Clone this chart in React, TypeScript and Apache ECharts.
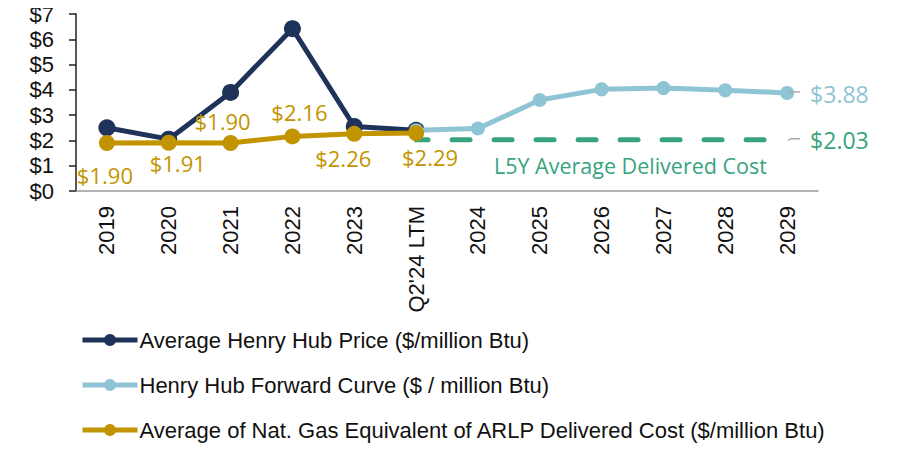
import React, { useEffect, useRef } from "react";
import * as echarts from "echarts";

const categories = ["2019", "2020", "2021", "2022", "2023", "Q2'24 LTM", "2024", "2025", "2026", "2027", "2028", "2029"];
const henryHub = [2.5, 2.05, 3.9, 6.42, 2.55, 2.4, null, null, null, null, null, null];
const forwardCurve = [null, null, null, null, null, 2.4, 2.47, 3.6, 4.02, 4.07, 3.98, 3.88];
const arlpCost = [1.9, 1.91, 1.9, 2.16, 2.26, 2.29, null, null, null, null, null, null];
const l5yAverage = [null, null, null, null, null, 2.03, 2.03, 2.03, 2.03, 2.03, 2.03, 2.03];
const yTicks = [0, 1, 2, 3, 4, 5, 6, 7];
const seriesNames = [
  "Average Henry Hub Price ($/million Btu)",
  "Henry Hub Forward Curve ($ / million Btu)",
  "Average of Nat. Gas Equivalent of ARLP Delivered Cost ($/million Btu)",
];
const l5yLabel = "L5Y Average Delivered Cost";

const NAVY = "#1f3259";
const LIGHT = "#8fc4d4";
const GOLD = "#c29500";
const GREEN = "#38a47d";
const AXIS_FONT = "'Liberation Sans', Arial, sans-serif";
const LABEL_FONT = "'Open Sans', 'Liberation Sans', sans-serif";

export default function App() {
  const ref = useRef<HTMLDivElement>(null);
  useEffect(() => {
    if (!ref.current) return;
    const chart = echarts.init(ref.current, null, { renderer: "svg" });
    const arlpLabelCfg = [
      { position: "bottom", distance: 13, offset: [-2, 0] },
      { position: "bottom", distance: 1, offset: [9, 0] },
      { position: "top", distance: 3, offset: [-8, 0] },
      { position: "top", distance: 5, offset: [7, 0] },
      { position: "bottom", distance: 5, offset: [-11, 0] },
      { position: "bottom", distance: 5, offset: [14, 0] },
    ];
    chart.setOption({
      animation: false,
      grid: { left: 76, right: 81, top: 14, bottom: 261, containLabel: false },
      legend: {
        orient: "vertical",
        left: 80,
        top: 329,
        padding: 0,
        itemGap: 23,
        itemWidth: 55,
        itemHeight: 15,
        lineStyle: { width: 5 },
        textStyle: { fontFamily: AXIS_FONT, fontSize: 22, lineHeight: 22, color: "#111", padding: [0, 0, 0, -3] },
        data: seriesNames.map((n) => ({ name: n })),
      },
      xAxis: {
        type: "category",
        data: categories,
        boundaryGap: true,
        axisLine: { lineStyle: { color: "#999", width: 1.5 } },
        axisTick: { show: false },
        axisLabel: { rotate: 90, fontSize: 22, color: "#111", fontFamily: AXIS_FONT, margin: 15, interval: 0 },
      },
      yAxis: {
        type: "value",
        min: 0,
        max: 7,
        interval: 1,
        splitLine: { show: false },
        axisLine: { show: true, lineStyle: { color: "#222", width: 1.5 } },
        axisTick: { show: true, length: 7, lineStyle: { color: "#222", width: 1.5 } },
        axisLabel: {
          fontSize: 22,
          color: "#111",
          fontFamily: AXIS_FONT,
          margin: 22,
          formatter: (v: number) => (yTicks.includes(v) ? "$" + v : ""),
        },
      },
      series: [
        {
          name: l5yLabel,
          type: "line",
          data: l5yAverage,
          symbol: "none",
          lineStyle: { color: GREEN, width: 5, type: [18, 24], cap: "round", dashOffset: 6 },
          itemStyle: { color: GREEN },
          z: 1,
        },
        {
          name: seriesNames[0],
          type: "line",
          data: henryHub,
          symbol: "circle",
          symbolSize: 17,
          lineStyle: { color: NAVY, width: 5 },
          itemStyle: { color: NAVY },
          z: 2,
        },
        {
          name: seriesNames[1],
          type: "line",
          data: forwardCurve,
          symbol: "circle",
          symbolSize: 14,
          lineStyle: { color: LIGHT, width: 5 },
          itemStyle: { color: LIGHT },
          z: 3,
        },
        {
          name: seriesNames[2],
          type: "line",
          data: arlpCost.map((v, i) =>
            v == null
              ? null
              : {
                  value: v,
                  label: {
                    show: true,
                    position: arlpLabelCfg[i].position,
                    distance: arlpLabelCfg[i].distance,
                    offset: arlpLabelCfg[i].offset,
                  },
                }
          ),
          symbol: "circle",
          symbolSize: 16,
          lineStyle: { color: GOLD, width: 5 },
          itemStyle: { color: GOLD },
          label: {
            show: true,
            color: GOLD,
            fontSize: 22,
            fontFamily: LABEL_FONT,
            formatter: (p: any) => "$" + Number(p.value).toFixed(2),
          },
          z: 4,
        },
      ],
    });

    const px = (x: number, y: number) => chart.convertToPixel({ xAxisIndex: 0, yAxisIndex: 0 }, [x, y]);
    const last = categories.length - 1;
    const p388 = px(last, forwardCurve[last] as number);
    const p203 = px(last, l5yAverage[last] as number);
    const pMid = px(9, l5yAverage[last] as number);
    chart.setOption({
      graphic: [
        { type: "line", z: 10, shape: { x1: p388[0] + 1, y1: p388[1] - 1, x2: p388[0] + 13, y2: p388[1] - 1 }, style: { stroke: "#aaa", lineWidth: 1.5 } },
        { type: "polyline", z: 10, shape: { points: [[p203[0] + 1, p203[1] + 1], [p203[0] + 4, p203[1] - 1], [p203[0] + 13, p203[1] - 1]] }, style: { stroke: "#aaa", lineWidth: 1.5, fill: "none" } },
        {
          type: "text",
          x: p388[0] + 23,
          y: p388[1] + 1,
          style: { text: "$" + (forwardCurve[last] as number).toFixed(2), fill: LIGHT, fontSize: 23, fontFamily: LABEL_FONT, verticalAlign: "middle" },
        },
        {
          type: "text",
          x: p203[0] + 23,
          y: p203[1],
          style: { text: "$" + (l5yAverage[last] as number).toFixed(2), fill: GREEN, fontSize: 23, fontFamily: LABEL_FONT, verticalAlign: "middle" },
        },
        {
          type: "text",
          x: pMid[0] - 33,
          y: pMid[1] + 26,
          style: { text: l5yLabel, fill: GREEN, fontSize: 21.5, fontFamily: LABEL_FONT, align: "center", verticalAlign: "middle" },
        },
      ],
    });
    return () => chart.dispose();
  }, []);
  return <div ref={ref} style={{ width: 899, height: 452, margin: -8 }} />;
}
